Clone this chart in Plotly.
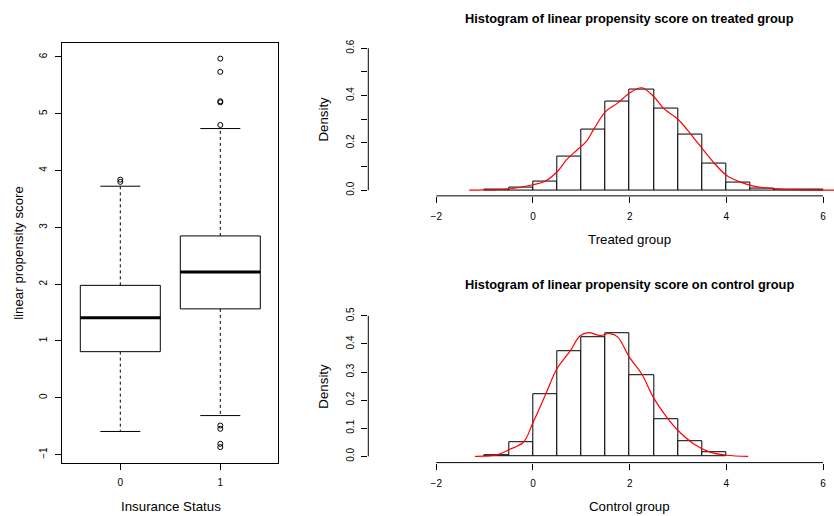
import plotly.graph_objects as go

# ---------------- data ----------------
box_groups = ["0", "1"]
box_q1 = [0.812, 1.565]
box_median = [1.407, 2.212]
box_q3 = [1.979, 2.849]
box_lower_whisker = [-0.593, -0.313]
box_upper_whisker = [3.724, 4.739]
outliers_0 = [3.80, 3.84]
outliers_1 = [5.97, 5.737, 5.22, 5.20, 4.802, -0.488, -0.546, -0.81, -0.868]

hist_breaks_treated = [-1.0, -0.5, 0.0, 0.5, 1.0, 1.5, 2.0, 2.5, 3.0, 3.5, 4.0, 4.5, 5.0, 5.5, 6.0]
hist_density_treated = [0.003, 0.011, 0.0365, 0.142, 0.256, 0.375, 0.427, 0.347, 0.237, 0.114, 0.032, 0.008, 0.002, 0.001]

hist_breaks_control = [-1.0, -0.5, 0.0, 0.5, 1.0, 1.5, 2.0, 2.5, 3.0, 3.5, 4.0]
hist_density_control = [0.0035, 0.049, 0.221, 0.375, 0.425, 0.437, 0.288, 0.1335, 0.0527, 0.015]

kde_x_treated = [-1.32, -1.0, -0.5, 0.0, 0.25, 0.5, 0.7, 0.9, 1.1, 1.25, 1.5, 1.75, 2.0, 2.25, 2.5,
                 2.7, 3.0, 3.2, 3.45, 3.73, 4.0, 4.28, 4.56, 5.0, 5.4, 5.8, 6.3]
kde_y_treated = [0.0, 0.001, 0.005, 0.023, 0.038, 0.078, 0.13, 0.168, 0.205, 0.255, 0.332, 0.368, 0.411, 0.433, 0.395,
                 0.346, 0.30, 0.253, 0.189, 0.119, 0.063, 0.035, 0.017, 0.006, 0.002, 0.0005, 0.0]

kde_x_control = [-1.2, -0.75, -0.48, -0.2, 0.0, 0.28, 0.49, 0.77, 0.97, 1.15, 1.39, 1.59, 1.75, 2.0, 2.25,
                 2.49, 2.77, 3.0, 3.32, 3.66, 4.0, 4.45]
kde_y_control = [0.0, 0.005, 0.025, 0.05, 0.12, 0.228, 0.31, 0.375, 0.428, 0.44, 0.43, 0.437, 0.425, 0.351, 0.293,
                 0.21, 0.139, 0.092, 0.045, 0.015, 0.004, 0.0]

hist_xticks = [-2, 0, 2, 4, 6]
box_yticks = [-1, 0, 1, 2, 3, 4, 5, 6]

# ---------------- layout helpers ----------------
W, H = 834, 516
FONT = "Liberation Sans, Arial, Helvetica, sans-serif"


def px_x(p):
    return p / W


def px_y(p):
    return 1 - p / H


def lab(v):
    return str(v).replace("-", "\u2212")


fig = go.Figure()

# ---------------- boxplot ----------------
positions = [i + 1 for i in range(len(box_groups))]
fig.add_trace(go.Box(
    x=positions, q1=box_q1, median=box_median, q3=box_q3,
    lowerfence=box_q1, upperfence=box_q3,
    width=0.8, whiskerwidth=0, boxpoints=False,
    fillcolor="white", line=dict(color="black", width=1),
    xaxis="x", yaxis="y", showlegend=False, hoverinfo="skip",
))
for i, p in enumerate(positions):
    # median (thick)
    fig.add_trace(go.Scatter(x=[p - 0.4, p + 0.4], y=[box_median[i]] * 2, mode="lines",
                             line=dict(color="black", width=3), xaxis="x", yaxis="y",
                             showlegend=False, hoverinfo="skip"))
    # dashed whiskers
    fig.add_trace(go.Scatter(x=[p, p, None, p, p],
                             y=[box_q3[i], box_upper_whisker[i], None, box_q1[i], box_lower_whisker[i]],
                             mode="lines", line=dict(color="black", width=1, dash="3px,3px"),
                             xaxis="x", yaxis="y", showlegend=False, hoverinfo="skip"))
    # staples
    fig.add_trace(go.Scatter(x=[p - 0.2, p + 0.2, None, p - 0.2, p + 0.2],
                             y=[box_upper_whisker[i]] * 2 + [None] + [box_lower_whisker[i]] * 2,
                             mode="lines", line=dict(color="black", width=1),
                             xaxis="x", yaxis="y", showlegend=False, hoverinfo="skip"))

for p, outs in zip(positions, [outliers_0, outliers_1]):
    fig.add_trace(go.Scatter(x=[p] * len(outs), y=outs, mode="markers",
                             marker=dict(symbol="circle-open", size=5, color="black", line=dict(width=1)),
                             xaxis="x", yaxis="y", showlegend=False, hoverinfo="skip"))


# ---------------- histograms ----------------
def add_hist(breaks, dens, kx, ky, xa, ya):
    mids = [(breaks[i] + breaks[i + 1]) / 2 for i in range(len(dens))]
    widths = [breaks[i + 1] - breaks[i] for i in range(len(dens))]
    fig.add_trace(go.Bar(x=mids, y=dens, width=widths, marker=dict(color="white", line=dict(color="black", width=1)),
                         xaxis=xa, yaxis=ya, showlegend=False, hoverinfo="skip"))
    fig.add_trace(go.Scatter(x=kx, y=ky, mode="lines", line=dict(color="red", width=1.2, shape="spline", smoothing=1.0),
                             xaxis=xa, yaxis=ya, showlegend=False, hoverinfo="skip"))


add_hist(hist_breaks_treated, hist_density_treated, kde_x_treated, kde_y_treated, "x2", "y2")
add_hist(hist_breaks_control, hist_density_control, kde_x_control, kde_y_control, "x3", "y3")

tickfont = dict(family=FONT, size=10, color="black")
common = dict(showgrid=False, zeroline=False, ticks="outside", ticklen=6, tickwidth=1, tickcolor="black",
              tickfont=tickfont)

fig.update_layout(
    width=W, height=H, margin=dict(l=0, r=0, t=0, b=0),
    paper_bgcolor="white", plot_bgcolor="white", bargap=0,
    font=dict(family=FONT, color="black"),
    xaxis=dict(domain=[px_x(62.3), px_x(278.3)], range=[0.42, 2.58], tickvals=positions, ticktext=box_groups,
               showline=True, mirror=True, linecolor="black", linewidth=1, ticklabelstandoff=4,
               anchor="y", **common),
    yaxis=dict(domain=[px_y(462.3), px_y(40)], range=[-1.141, 6.249], tickvals=box_yticks,
               ticktext=[lab(v) for v in box_yticks], tickangle=-90,
               showline=True, mirror=True, linecolor="black", linewidth=1, ticklabelstandoff=4,
               anchor="x", **common),
    xaxis2=dict(domain=[px_x(368.3), 1], range=[-3.406, 6.226], tickvals=hist_xticks,
                ticktext=[lab(v) for v in hist_xticks], showline=False, anchor="y2", ticklabelstandoff=5,
                **common),
    yaxis2=dict(domain=[px_y(194), px_y(39.8)], range=[-0.024, 0.624],
                tickvals=[0, 0.1, 0.2, 0.3, 0.4, 0.5, 0.6],
                ticktext=["0.0", "", "0.2", "", "0.4", "", "0.6"], tickangle=-90,
                showline=False, anchor="x2", ticklabelstandoff=3, **common),
    xaxis3=dict(domain=[px_x(368.3), 1], range=[-3.406, 6.226], tickvals=hist_xticks,
                ticktext=[lab(v) for v in hist_xticks], showline=False, anchor="y3", ticklabelstandoff=5,
                **common),
    yaxis3=dict(domain=[px_y(462.3), px_y(309)], range=[-0.0223, 0.52],
                tickvals=[0, 0.1, 0.2, 0.3, 0.4, 0.5],
                ticktext=["0.0", "0.1", "0.2", "0.3", "0.4", "0.5"], tickangle=-90,
                showline=False, anchor="x3", ticklabelstandoff=3, **common),
)

# detached axis lines (R style: from first to last tick)
for xa, ya, ymax in [("x2", "y2", 0.6), ("x3", "y3", 0.5)]:
    fig.add_shape(type="line", xref=xa, yref=ya + " domain", x0=hist_xticks[0], x1=hist_xticks[-1], y0=0, y1=0,
                  line=dict(color="black", width=1))
    fig.add_shape(type="line", xref=xa + " domain", yref=ya, x0=0, x1=0, y0=0, y1=ymax,
                  line=dict(color="black", width=1))

# ---------------- text ----------------
def ann(text, x, y, size=13, angle=0, bold=False):
    fig.add_annotation(text=("<b>%s</b>" % text) if bold else text, x=px_x(x), y=px_y(y),
                       xref="paper", yref="paper", showarrow=False, textangle=angle,
                       xanchor="center", yanchor="middle",
                       font=dict(family=FONT, size=size, color="black"))


ann("linear propensity score", 18.3, 251, size=13.3, angle=-90)
ann("Insurance Status", 170.8, 506.7, size=13.3)
ann("Histogram of linear propensity score on treated group", 629.5, 15.5, size=12.8, bold=True)
ann("Histogram of linear propensity score on control group", 629.5, 283.3, size=12.8, bold=True)
ann("Density", 323.3, 117, size=13.3, angle=-90)
ann("Density", 323.3, 385.6, size=13.3, angle=-90)
ann("Treated group", 629.2, 238.3, size=13.3)
ann("Control group", 629.2, 506.7, size=13.3)

fig.write_html("out.html", config={"displayModeBar": False},
               post_script="document.body.style.margin='0';document.body.style.padding='0';"
                           "document.body.style.overflow='hidden';")
